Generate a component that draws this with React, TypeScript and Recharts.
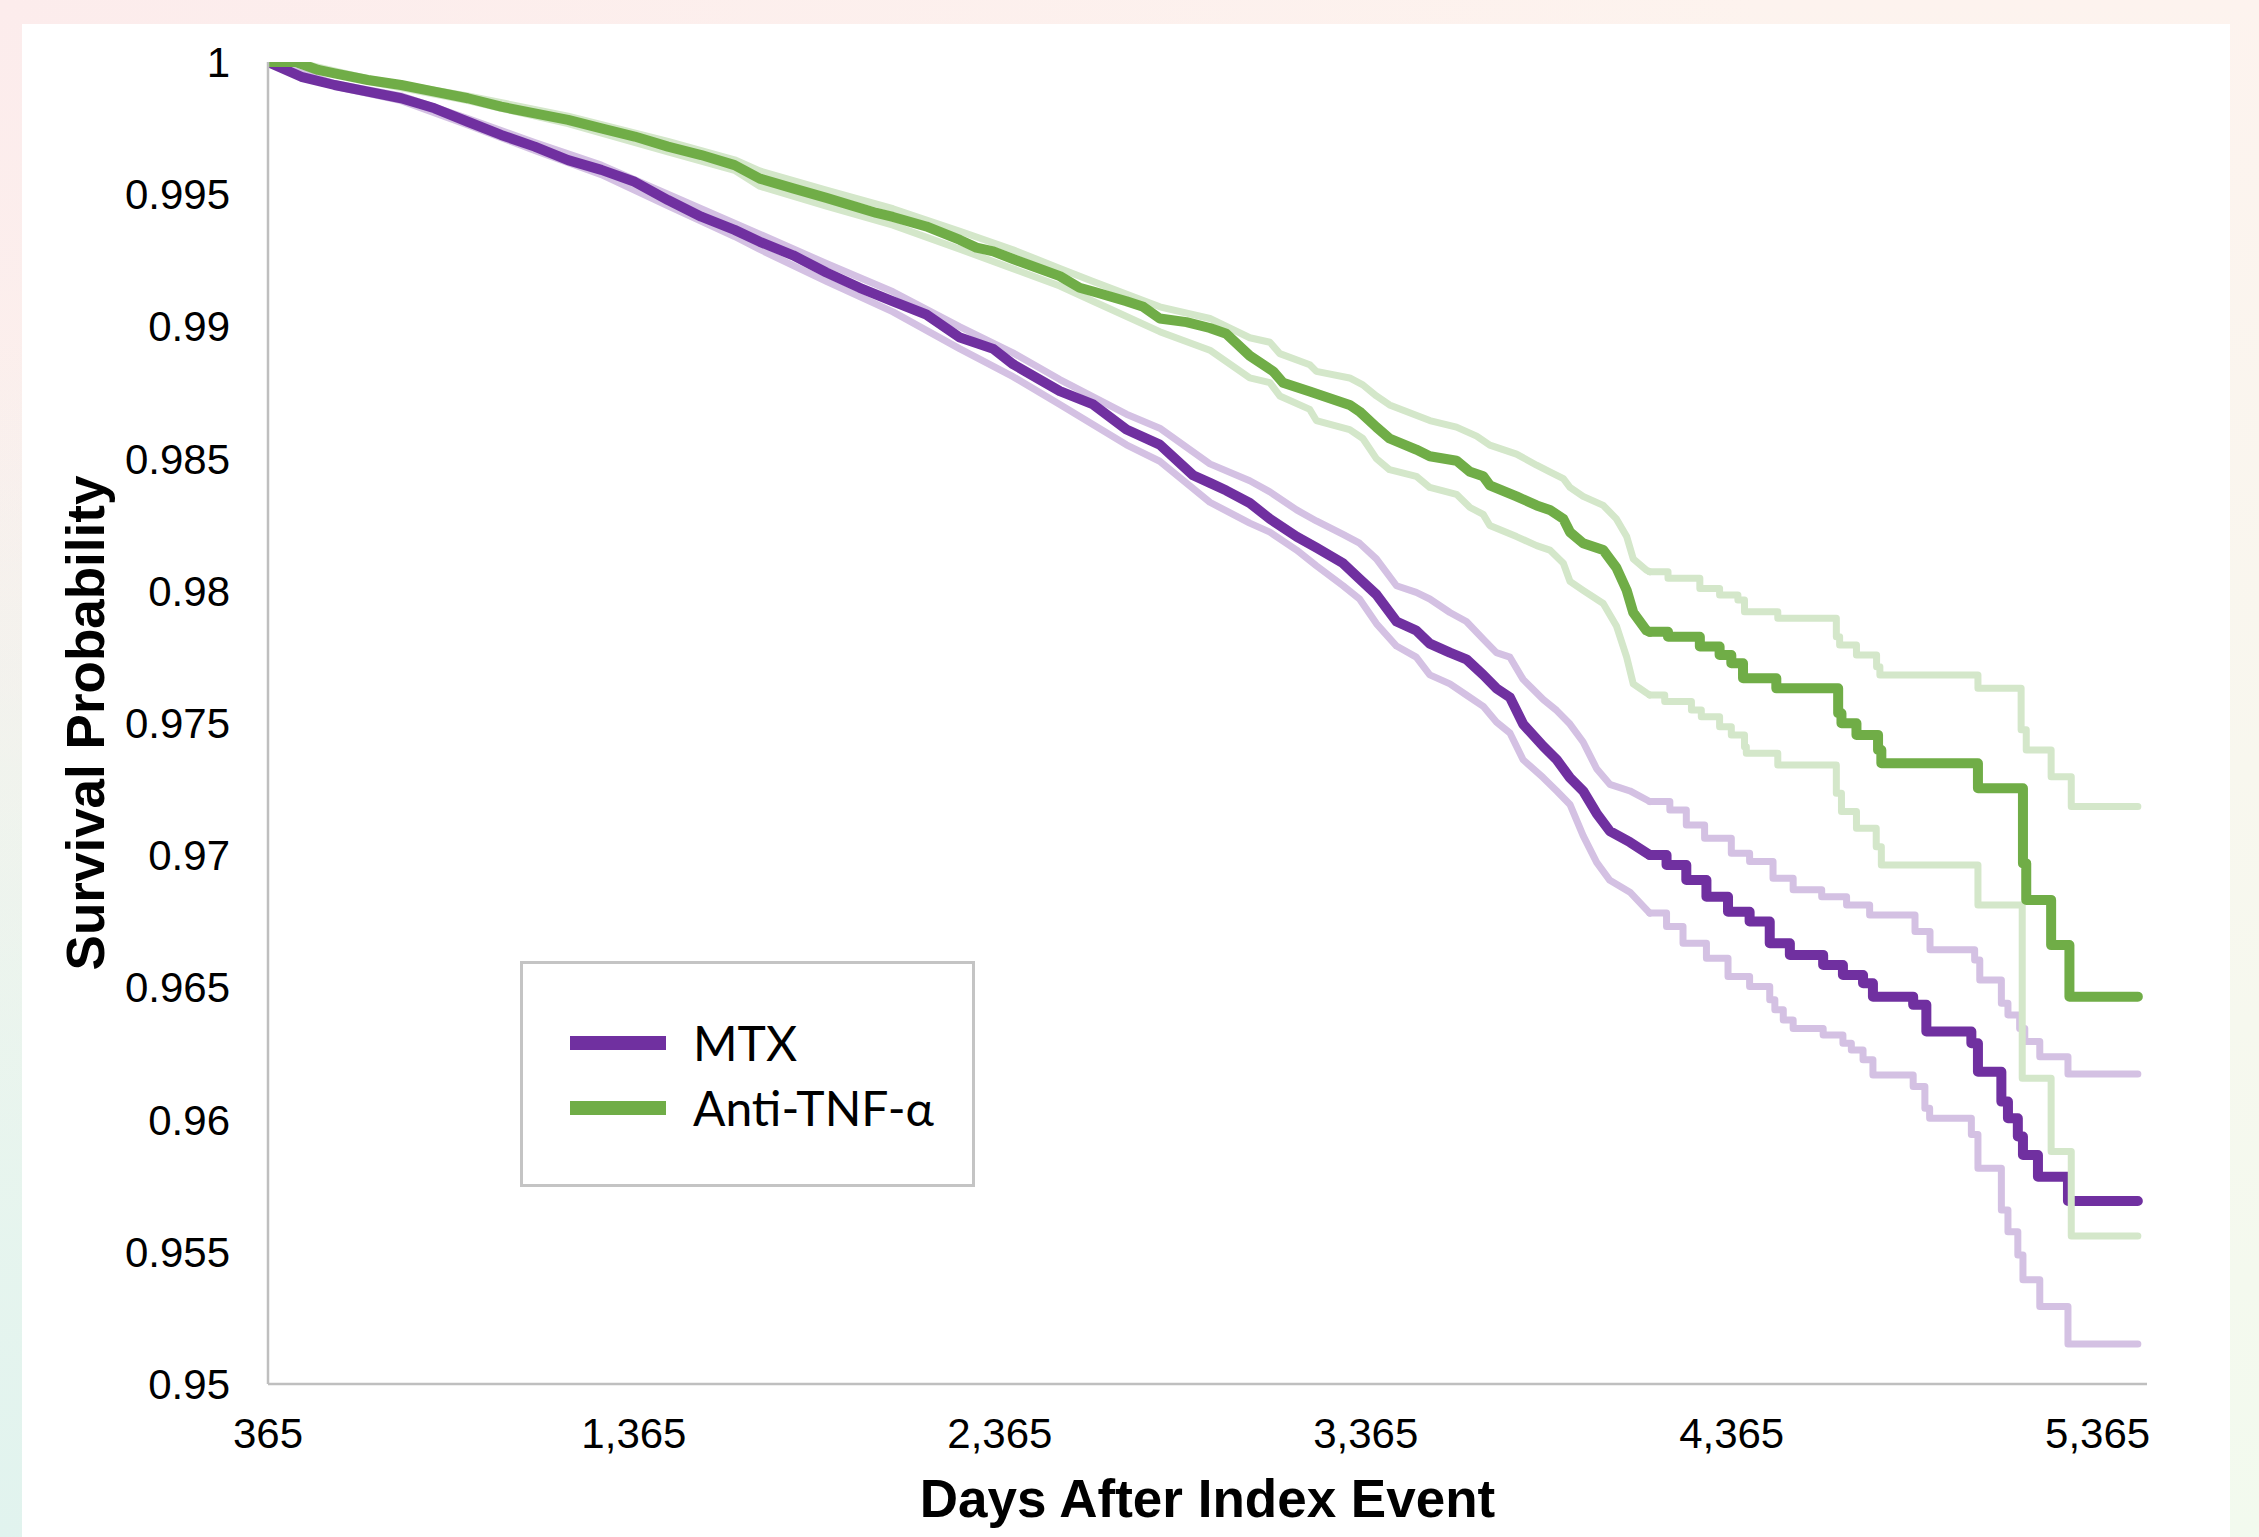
import React from 'react';
import { LineChart, Line, XAxis, YAxis, Legend } from 'recharts';

// ---------- axis ticks ----------
const xTicks = [365, 1365, 2365, 3365, 4365, 5365];
const yTicks = [0.95, 0.955, 0.96, 0.965, 0.97, 0.975, 0.98, 0.985, 0.99, 0.995, 1];
const X_MIN = 365;
const X_MAX = 5500;
const STEP_FROM = 4141; // from this day the curves are drawn as visible steps

// ---------- MTX (main + 95% CI) ----------
const mtxDays = [365, 456, 547, 638, 729, 820, 911, 1002, 1094, 1185, 1276, 1367, 1458, 1549, 1640, 1709, 1800, 1891, 1982, 2073, 2164, 2256, 2347, 2401, 2474, 2529, 2620, 2711, 2802, 2893, 2939, 2984, 3048, 3103, 3176, 3230, 3303, 3348, 3394, 3449, 3503, 3540, 3595, 3640, 3686, 3722, 3759, 3795, 3850, 3887, 3923, 3959, 3996, 4032, 4087, 4141,
  4187, 4241, 4296, 4355, 4414, 4469, 4524, 4615, 4669, 4724, 4751, 4861, 4897, 5020, 5038, 5102, 5120, 5147, 5161, 5202, 5284, 5475];
const mtxSurv = [1.0, 0.99944, 0.99913, 0.99888, 0.99863, 0.99825, 0.99774, 0.99724, 0.9968, 0.99629, 0.99592, 0.99547, 0.99478, 0.99415, 0.99365, 0.9932, 0.99269, 0.99204, 0.99146, 0.99095, 0.99045, 0.98958, 0.98915, 0.98857, 0.98799, 0.98755, 0.98705, 0.9861, 0.98553, 0.98437, 0.98408, 0.98379, 0.98332, 0.98272, 0.98205, 0.98163, 0.98104, 0.98045, 0.97986, 0.97884, 0.9785, 0.978, 0.97766, 0.97741, 0.97682, 0.97631, 0.97597, 0.97496, 0.97412, 0.97361, 0.97293, 0.97243, 0.97158, 0.97091, 0.97049, 0.97001,
  0.96963, 0.96906, 0.96843, 0.96786, 0.96749, 0.96667, 0.96623, 0.96585, 0.96547, 0.96516, 0.96465, 0.96434, 0.96333, 0.96289, 0.96181, 0.96068, 0.96005, 0.95936, 0.95866, 0.95784, 0.95692, 0.95692];

const mtxUpperDays = [365, 547, 729, 911, 1094, 1276, 1458, 1640, 1709, 1891, 2073, 2256, 2401, 2529, 2711, 2802, 2939, 3048, 3103, 3176, 3230, 3303, 3348, 3394, 3449, 3503, 3540, 3595, 3640, 3686, 3722, 3759, 3795, 3850, 3887, 3923, 3959, 3996, 4032, 4087, 4141,
  4196, 4241, 4291, 4364, 4414, 4478, 4533, 4611, 4679, 4742, 4866, 4907, 5029, 5043, 5102, 5120, 5152, 5166, 5207, 5284, 5475];
const mtxUpper = [1.0, 0.99918, 0.99872, 0.99786, 0.99695, 0.9961, 0.995, 0.9939, 0.99349, 0.99238, 0.99131, 0.98998, 0.989, 0.98799, 0.98668, 0.98615, 0.9848, 0.98416, 0.98374, 0.98306, 0.98264, 0.98213, 0.9818, 0.98121, 0.98019, 0.97994, 0.97969, 0.97918, 0.97884, 0.97817, 0.97766, 0.97749, 0.97665, 0.97589, 0.97547, 0.97496, 0.97428, 0.97327, 0.97268, 0.97243, 0.97203,
  0.97171, 0.97114, 0.97064, 0.97007, 0.96976, 0.96913, 0.96869, 0.96843, 0.96812, 0.96774, 0.96711, 0.96642, 0.96604, 0.96528, 0.9644, 0.96396, 0.96345, 0.96295, 0.96238, 0.96172, 0.96172];

const mtxLowerDays = [365, 547, 729, 911, 1094, 1276, 1458, 1640, 1709, 1891, 2073, 2256, 2401, 2529, 2711, 2802, 2939, 3048, 3103, 3176, 3230, 3303, 3348, 3394, 3449, 3503, 3540, 3595, 3640, 3686, 3722, 3759, 3795, 3850, 3887, 3923, 3959, 3996, 4032, 4087, 4141,
  4187, 4232, 4296, 4355, 4414, 4469, 4483, 4506, 4533, 4615, 4669, 4692, 4724, 4751, 4861, 4893, 4906, 5020, 5038, 5102, 5120, 5147, 5161, 5207, 5284, 5475];
const mtxLower = [1.0, 0.99908, 0.99854, 0.99762, 0.99665, 0.99574, 0.99456, 0.9934, 0.99291, 0.9917, 0.99055, 0.98915, 0.9881, 0.98705, 0.98552, 0.9849, 0.98335, 0.98256, 0.98222, 0.98154, 0.98095, 0.98019, 0.97969, 0.97876, 0.97791, 0.97749, 0.97682, 0.97648, 0.97606, 0.97563, 0.97504, 0.97462, 0.97361, 0.97293, 0.97243, 0.97192, 0.97074, 0.96973, 0.96905, 0.9686, 0.96781,
  0.9673, 0.96667, 0.9661, 0.96541, 0.96503, 0.96453, 0.96415, 0.96377, 0.96345, 0.9632, 0.96289, 0.96263, 0.96226, 0.96169, 0.96125, 0.96043, 0.96005, 0.95944, 0.95816, 0.95658, 0.95576, 0.95488, 0.95394, 0.95293, 0.95151, 0.95151];

// ---------- Anti-TNF-α (main + 95% CI) ----------
const tnfDays = [365, 441, 502, 547, 638, 729, 820, 911, 1002, 1094, 1185, 1276, 1367, 1458, 1549, 1640, 1709, 1800, 1891, 2028, 2073, 2164, 2256, 2301, 2347, 2401, 2529, 2583, 2620, 2711, 2757, 2802, 2875, 2939, 2984, 3048, 3112, 3139, 3212, 3321, 3348, 3394, 3430, 3503, 3540, 3613, 3650, 3686, 3704, 3777, 3832, 3868, 3905, 3923, 3959, 4014, 4050, 4078, 4096, 4132, 4141,
  4191, 4278, 4332, 4364, 4396, 4487, 4656, 4665, 4706, 4765, 4774, 5038, 5161, 5170, 5238, 5288, 5475];
const tnfSurv = [1.0, 1.0, 0.9997, 0.99957, 0.99932, 0.99913, 0.99888, 0.99863, 0.99831, 0.99806, 0.99781, 0.99749, 0.99718, 0.9968, 0.99648, 0.9961, 0.99559, 0.99522, 0.99486, 0.99429, 0.99414, 0.99378, 0.99327, 0.99298, 0.99284, 0.99255, 0.9919, 0.99146, 0.99132, 0.99095, 0.99074, 0.9903, 0.99016, 0.98994, 0.98972, 0.98889, 0.9883, 0.98787, 0.98754, 0.98703, 0.98678, 0.98619, 0.98576, 0.98534, 0.98509, 0.98492, 0.9845, 0.98433, 0.98399, 0.98357, 0.98323, 0.98306, 0.98272, 0.98222, 0.9818, 0.98154, 0.98087, 0.98002, 0.97918, 0.9785, 0.97845,
  0.97826, 0.97789, 0.97757, 0.97726, 0.97669, 0.97631, 0.97537, 0.97499, 0.97455, 0.97398, 0.97348, 0.97253, 0.96969, 0.96831, 0.9666, 0.96465, 0.96465];

const tnfUpperDays = [365, 441, 638, 911, 1185, 1458, 1640, 1709, 1891, 2073, 2256, 2401, 2529, 2620, 2802, 2939, 3048, 3103, 3130, 3212, 3230, 3321, 3357, 3394, 3430, 3540, 3613, 3668, 3704, 3777, 3832, 3868, 3905, 3923, 3959, 4014, 4050, 4078, 4096, 4132, 4141,
  4191, 4278, 4332, 4382, 4400, 4491, 4651, 4660, 4706, 4761, 4770, 5038, 5156, 5170, 5238, 5293, 5475];
const tnfUpper = [1.0, 1.0, 0.99937, 0.99872, 0.99795, 0.997, 0.9963, 0.99588, 0.99515, 0.99445, 0.9936, 0.9929, 0.99219, 0.9917, 0.99074, 0.9903, 0.98957, 0.9894, 0.98897, 0.98855, 0.9883, 0.98805, 0.98779, 0.98737, 0.98703, 0.98644, 0.98619, 0.98585, 0.98551, 0.98517, 0.98475, 0.9845, 0.98424, 0.98391, 0.98357, 0.98323, 0.98272, 0.98205, 0.98121, 0.98078, 0.98072,
  0.98047, 0.98009, 0.97984, 0.97965, 0.97921, 0.97896, 0.97826, 0.97795, 0.97757, 0.97713, 0.97682, 0.97631, 0.97474, 0.97398, 0.97297, 0.97184, 0.97184];

const tnfLowerDays = [365, 441, 638, 911, 1185, 1458, 1640, 1709, 1891, 2073, 2256, 2401, 2529, 2620, 2802, 2939, 3048, 3103, 3130, 3212, 3230, 3321, 3357, 3394, 3430, 3503, 3540, 3613, 3650, 3686, 3704, 3777, 3832, 3868, 3905, 3923, 3959, 4014, 4050, 4078, 4096, 4132, 4141,
  4182, 4255, 4282, 4332, 4364, 4400, 4405, 4491, 4651, 4665, 4706, 4760, 4774, 5038, 5159, 5238, 5293, 5475];
const tnfLower = [1.0, 1.0, 0.99927, 0.99854, 0.99767, 0.9966, 0.9959, 0.9953, 0.99455, 0.99383, 0.99292, 0.99218, 0.99153, 0.99095, 0.9898, 0.9891, 0.98805, 0.98787, 0.98737, 0.98686, 0.98644, 0.9861, 0.98576, 0.985, 0.98458, 0.98433, 0.98391, 0.98365, 0.98315, 0.98289, 0.98247, 0.98205, 0.98171, 0.98154, 0.98104, 0.98036, 0.98002, 0.97952, 0.97867, 0.97749, 0.97648, 0.97614, 0.97606,
  0.97581, 0.97549, 0.97524, 0.97486, 0.97455, 0.9741, 0.97386, 0.97341, 0.97234, 0.97165, 0.97102, 0.97032, 0.96963, 0.96812, 0.96156, 0.95879, 0.9556, 0.9556];

// ---------- legend ----------
const legendNames = ['MTX', 'Anti-TNF-α'];
const legendColors = ['#7030A0', '#70AD47'];

const toPoints = (days: number[], vals: number[]) => days.map((d, i) => ({ day: d, v: vals[i] }));

type SeriesDef = { key: string; days: number[]; vals: number[]; color: string; width: number };

const series: SeriesDef[] = [
  { key: 'mtxU', days: mtxUpperDays, vals: mtxUpper, color: '#D4C1E3', width: 7 },
  { key: 'mtxL', days: mtxLowerDays, vals: mtxLower, color: '#D4C1E3', width: 7 },
  { key: 'mtx', days: mtxDays, vals: mtxSurv, color: '#7030A0', width: 10 },
  { key: 'tnfU', days: tnfUpperDays, vals: tnfUpper, color: '#D4E7CA', width: 7 },
  { key: 'tnfL', days: tnfLowerDays, vals: tnfLower, color: '#D4E7CA', width: 7 },
  { key: 'tnf', days: tnfDays, vals: tnfSurv, color: '#70AD47', width: 10 },
];

const FONT = '"Liberation Sans", Arial, Helvetica, sans-serif';

const renderLegend = () => (
  <div
    style={{
      width: 455,
      height: 226,
      boxSizing: 'border-box',
      border: '3px solid #C4C4C4',
      background: '#ffffff',
      position: 'relative',
    }}
  >
    {legendNames.map((name, i) => (
      <div
        key={name}
        style={{
          position: 'absolute',
          left: 47,
          top: 46 + i * 65,
          height: 65,
          display: 'flex',
          alignItems: 'center',
        }}
      >
        <div style={{ width: 96, height: 14, background: legendColors[i] }} />
        <span
          style={{
            marginLeft: 27,
            fontFamily: 'Lato, "Open Sans", sans-serif',
            fontSize: 48,
            lineHeight: '65px',
            color: '#000',
            whiteSpace: 'nowrap',
          }}
        >
          {name}
        </span>
      </div>
    ))}
  </div>
);

export default function App() {
  const lines: React.ReactNode[] = [];
  series.forEach((s) => {
    const pts = toPoints(s.days, s.vals);
    const smooth = pts.filter((p) => p.day <= STEP_FROM);
    const steps = pts.filter((p) => p.day >= STEP_FROM);
    lines.push(
      <Line
        key={s.key + '-a'}
        data={smooth}
        dataKey="v"
        type="linear"
        stroke={s.color}
        strokeWidth={s.width}
        strokeLinecap="round"
        strokeLinejoin="round"
        dot={false}
        activeDot={false}
        legendType="none"
        isAnimationActive={false}
      />
    );
    lines.push(
      <Line
        key={s.key + '-b'}
        data={steps}
        dataKey="v"
        type="stepAfter"
        stroke={s.color}
        strokeWidth={s.width}
        strokeLinecap="round"
        strokeLinejoin="round"
        dot={false}
        activeDot={false}
        legendType="none"
        isAnimationActive={false}
      />
    );
  });

  return (
    <div
      style={{
        position: 'absolute',
        left: 0,
        top: 0,
        width: 2259,
        height: 1537,
        overflow: 'hidden',
        background:
          'radial-gradient(ellipse at 0% 100%, #E1F3EE 0%, rgba(225,243,238,0) 55%), radial-gradient(ellipse at 0% 0%, #FCECEC 0%, rgba(252,236,236,0) 55%), linear-gradient(to bottom, #FDF3EE 0%, #F8F7EE 50%, #F2FAEE 100%)',
      }}
    >
      <div
        style={{
          position: 'absolute',
          left: 22,
          top: 24,
          width: 2208,
          height: 1513,
          background: '#ffffff',
        }}
      />
      <div style={{ position: 'absolute', left: 0, top: 0 }}>
        <LineChart width={2259} height={1537} margin={{ top: 62, right: 112, left: 0, bottom: 0 }}>
          <XAxis
            type="number"
            dataKey="day"
            domain={[X_MIN, X_MAX]}
            ticks={xTicks}
            interval={0}
            allowDataOverflow
            height={153}
            tickLine={false}
            tickSize={0}
            tickMargin={34}
            axisLine={{ stroke: '#BFBFBF', strokeWidth: 2.5 }}
            tick={{ fontSize: 42, fill: '#000', fontFamily: FONT }}
            tickFormatter={(v: number) => v.toLocaleString('en-US')}
            label={{
              value: 'Days After Index Event',
              position: 'insideBottom',
              offset: 20,
              style: { fontSize: 53, fontWeight: 700, fill: '#000', fontFamily: FONT },
            }}
          />
          <YAxis
            type="number"
            domain={[0.95, 1]}
            ticks={yTicks}
            interval={0}
            allowDataOverflow
            width={268}
            tickLine={false}
            tickSize={0}
            tickMargin={38}
            axisLine={{ stroke: '#BFBFBF', strokeWidth: 2.5 }}
            tick={{ fontSize: 42, fill: '#000', fontFamily: FONT }}
            tickFormatter={(v: number) => String(v)}
            label={{
              value: 'Survival Probability',
              angle: -90,
              position: 'insideLeft',
              offset: 85,
              style: { textAnchor: 'middle', fontSize: 53, fontWeight: 700, fill: '#000', fontFamily: FONT },
            }}
          />
          <Legend
            layout="horizontal"
            verticalAlign="middle"
            align="center"
            content={renderLegend}
            wrapperStyle={{ left: 520, top: 961, width: 455, height: 226 }}
          />
          {lines}
        </LineChart>
      </div>
    </div>
  );
}
